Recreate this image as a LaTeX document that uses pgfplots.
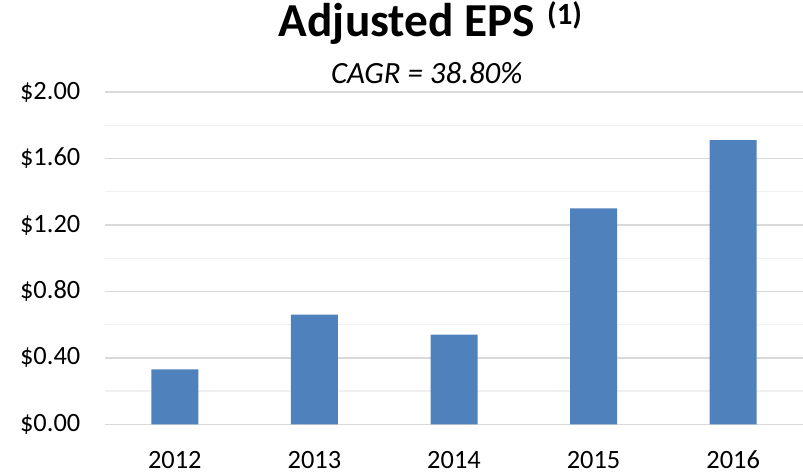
\documentclass[border=0pt]{standalone}
\usepackage{fontspec}
\setmainfont{Carlito}
\usepackage{pgfplots}
\pgfplotsset{compat=1.18}
\definecolor{barblue}{HTML}{4F81BD}
\definecolor{majgrid}{HTML}{D9D9D9}
\definecolor{mingrid}{HTML}{F0F0F0}
\begin{document}
\begin{tikzpicture}
\path[use as bounding box] (-105bp,-48.7bp) rectangle (698bp,424.3bp);
\begin{axis}[
  at={(0,0)}, anchor=south west,
  scale only axis,
  width=698bp, height=332.3bp,
  xmin=-0.5, xmax=4.5,
  ymin=0, ymax=2,
  clip=false,
  axis line style={draw=none},
  xtick={0,1,2,3,4},
  xticklabels={2012,2013,2014,2015,2016},
  ytick={0,0.4,0.8,1.2,1.6,2.0},
  yticklabels={\$0.00,\$0.40,\$0.80,\$1.20,\$1.60,\$2.00},
  minor ytick={0.2,0.6,1.0,1.4,1.8},
  major tick length=0pt, minor tick length=0pt,
  ymajorgrids, yminorgrids,
  major grid style={majgrid, line width=1.6bp},
  minor grid style={mingrid, line width=1.2bp},
  xticklabel style={font=\fontsize{26.5}{30}\selectfont, anchor=base, inner sep=0pt, yshift=-43.7bp},
  yticklabel style={font=\fontsize{26.5}{30}\selectfont, anchor=east, inner sep=0pt, xshift=-24.5bp},
]
\addplot[ybar, bar width=47bp, fill=barblue, draw=none] coordinates {
  (0,0.33) (1,0.66) (2,0.54) (3,1.30) (4,1.71)
};
\node[anchor=base, inner sep=0pt, font=\fontsize{47.5}{50}\selectfont\bfseries] at (rel axis cs:0.4663,1.1685) {Adjusted EPS\hspace{12bp}\raisebox{12bp}{\fontsize{31}{33}\selectfont (1)}};
\node[anchor=base, inner sep=0pt, font=\fontsize{31}{34}\selectfont\itshape] at (rel axis cs:0.461,1.027) {CAGR = 38.80\%};
\end{axis}
\end{tikzpicture}
\end{document}
